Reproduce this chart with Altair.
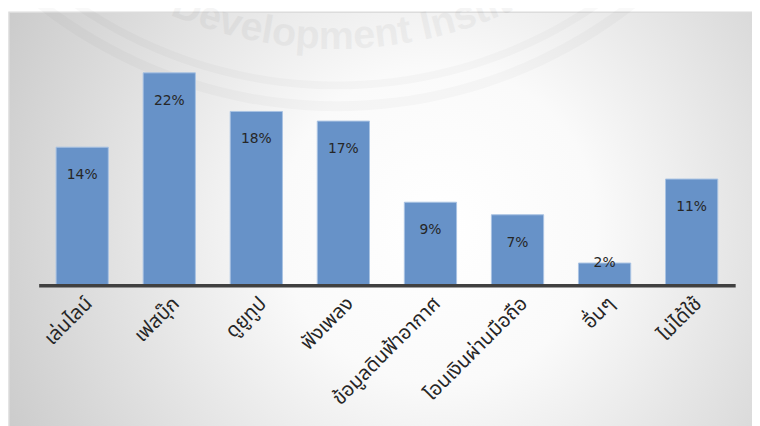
import math
import altair as alt
import pandas as pd

# ---- data ----
categories = ["เล่นไลน์", "เฟสบุ๊ก", "ดูยูทูป", "ฟังเพลง",
              "ข้อมูลดินฟ้าอากาศ", "โอนเงินผ่านมือถือ", "อื่นๆ", "ไม่ได้ใช้"]
values = [14.3, 22.0, 18.0, 17.0, 8.6, 7.3, 2.3, 11.0]

watermark_text = "Development Institute"

# ---- layout (page -> plot coordinates) ----
PLOT_LEFT, PLOT_TOP = 39, 42          # page position of plot origin
W, H = 704, 244

df = pd.DataFrame({"cat": categories, "val": values})

# background panel with radial gradient
bg = alt.Chart(alt.Data(values=[{}])).mark_rect(
    fill={
        "gradient": "radial",
        "x1": 0.57, "y1": 0.5, "r1": 0,
        "x2": 0.57, "y2": 0.5, "r2": 0.7,
        "stops": [
            {"offset": 0, "color": "#ffffff"},
            {"offset": 0.3, "color": "#fafafa"},
            {"offset": 1, "color": "#c4c4c4"},
        ],
    },
    stroke="#dcdcdc", strokeWidth=1.5,
).encode(
    x=alt.value(9 - PLOT_LEFT), x2=alt.value(770 - PLOT_LEFT),
    y=alt.value(10 - PLOT_TOP), y2=alt.value(440 - PLOT_TOP),
)

# faint seal watermark: rings + curved text
CX, CY = 340 - PLOT_LEFT, -380 - PLOT_TOP
rings = []
for r_in, r_out in [(460, 468), (480, 490)]:
    rings.append(
        alt.Chart(alt.Data(values=[{}])).mark_arc(
            color="#000000", opacity=0.025,
        ).encode(
            x=alt.value(CX), y=alt.value(CY),
            radius=alt.value(r_in), radius2=alt.value(r_out),
            theta=alt.value(math.pi - 1.0), theta2=alt.value(math.pi + 1.0),
        )
    )

widths = {"D": .722, "e": .556, "v": .556, "l": .278, "o": .611, "p": .611,
          "m": .889, "n": .611, "t": .333, " ": .278, "I": .278, "s": .556,
          "i": .278, "u": .611}
FS = 40
R_TXT = 427
pos = []
s = 0.0
for ch in watermark_text:
    w = widths.get(ch, .6) * FS
    pos.append(s + w / 2)
    s += w
m_center = pos[watermark_text.index("m")]
rows = []
for ch, p in zip(watermark_text, pos):
    if ch == " ":
        continue
    th = (p - m_center) / R_TXT
    rows.append({
        "ch": ch,
        "wx": CX + R_TXT * math.sin(th),
        "wy": CY + R_TXT * math.cos(th),
        "ang": (-math.degrees(th)) % 360,
    })
wm = alt.Chart(pd.DataFrame(rows)).mark_text(
    font="Liberation Sans", fontWeight="bold", fontSize=FS,
    color="#000000", opacity=0.035, baseline="alphabetic", align="center",
).encode(
    x=alt.X("wx:Q", scale=None, axis=None),
    y=alt.Y("wy:Q", scale=None, axis=None),
    text="ch:N",
    angle=alt.Angle("ang:Q", scale=None),
)

xscale = alt.Scale(paddingInner=0.4, paddingOuter=0.2)
yscale = alt.Scale(domain=[0, 25])

bars = alt.Chart(df).mark_bar(
    color="#6792c8", stroke="#a9c2e3", strokeWidth=1,
).encode(
    x=alt.X("cat:N", sort=categories, scale=xscale, title=None,
            axis=alt.Axis(labelAngle=-45, labelAlign="right",
                          labelBaseline="middle", labelPadding=15,
                          labelOffset=7, labelFontSize=20,
                          labelFont="Noto Sans Thai, Tahoma, DejaVu Sans, sans-serif",
                          labelColor="#262626", ticks=False, grid=False,
                          domainColor="#404040", domainWidth=3.5, zindex=1)),
    y=alt.Y("val:Q", scale=yscale, axis=None),
)

labels = alt.Chart(df).transform_calculate(
    ly="datum.val >= 5 ? datum.val - 2.9 : datum.val",
    txt="format(datum.val, '.0f') + '%'",
).mark_text(
    font="DejaVu Sans", fontSize=14, color="#262626", baseline="middle",
).encode(
    x=alt.X("cat:N", sort=categories, scale=xscale),
    y=alt.Y("ly:Q", scale=yscale),
    text="txt:N",
)

chart = alt.layer(bg, *rings, wm, bars, labels).properties(
    width=W, height=H,
    autosize=alt.AutoSizeParams(type="none"),
    padding={"left": PLOT_LEFT - 8, "top": PLOT_TOP - 8, "right": 17, "bottom": 140},
    background="#ffffff",
).configure_view(stroke=None)

chart.save("out.html", embed_options={"renderer": "svg", "actions": False})
